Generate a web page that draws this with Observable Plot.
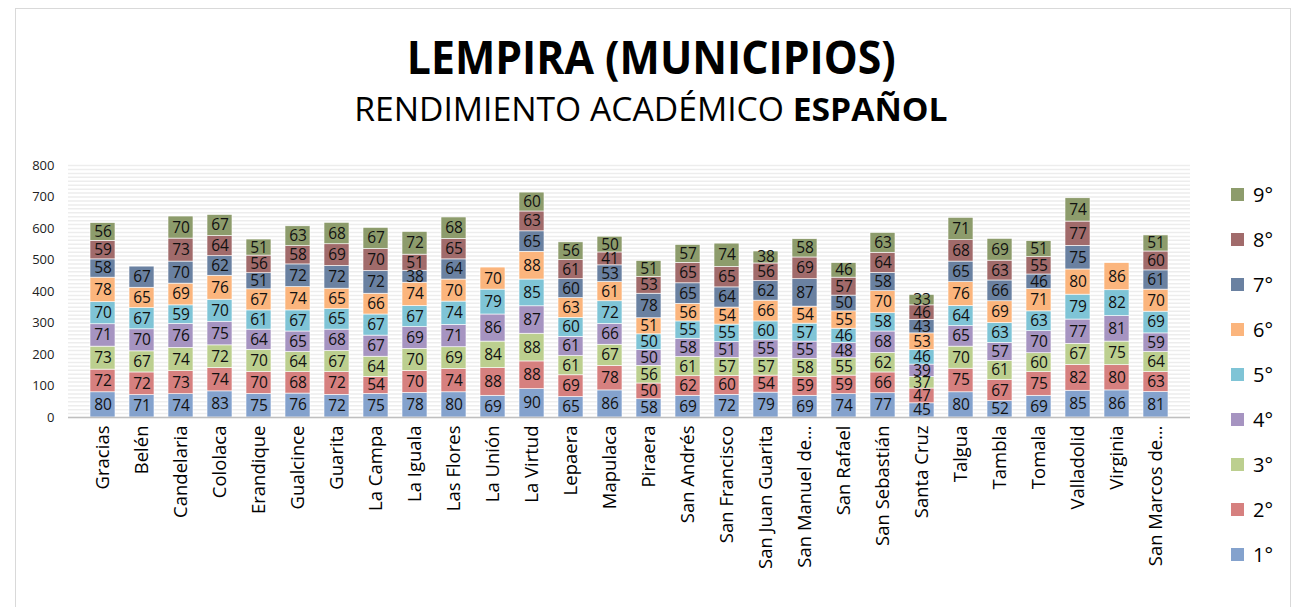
<!DOCTYPE html>
<html>
<head>
<meta charset="utf-8">
<script src="https://cdn.jsdelivr.net/npm/d3@7"></script>
<script src="https://cdn.jsdelivr.net/npm/@observablehq/plot@0.6"></script>
<style>
  html, body { margin: 0; padding: 0; background: #fff; }
  body { width: 1302px; height: 607px; position: relative; overflow: hidden; font-family: "Open Sans", sans-serif; }
  #frame { position: absolute; left: 15px; top: 8px; width: 1274px; height: 610px; border: 1px solid #d9d9d9; }
  #title { position: absolute; left: 0; width: 1302px; top: 33px; text-align: center; font-size: 46px; font-weight: 700; color: #000; line-height: 1; transform: scaleX(0.93); transform-origin: 655px 0; }
  #subtitle { position: absolute; left: 0; width: 1302px; top: 92px; text-align: center; font-size: 33px; font-weight: 400; color: #000; line-height: 1; transform: scaleX(1.02); transform-origin: 656px 0; }
  #chart { position: absolute; left: 0; top: 150px; }
  #legend { position: absolute; left: 1231px; top: 182px; }
  .li { position: absolute; left: 0; height: 24px; display: flex; align-items: center; font-size: 20px; color: #000; white-space: nowrap; }
  .sw { width: 13px; height: 13px; margin-right: 9px; }
</style>
</head>
<body>
<div id="frame"></div>
<div id="title">LEMPIRA (MUNICIPIOS)</div>
<div id="subtitle">RENDIMIENTO ACADÉMICO <b>ESPAÑOL</b></div>
<div id="chart"></div>
<div id="legend"></div>
<script>
const municipios = ["Gracias","Belén","Candelaria","Cololaca","Erandique","Gualcince","Guarita","La Campa","La Iguala","Las Flores","La Unión","La Virtud","Lepaera","Mapulaca","Piraera","San Andrés","San Francisco","San Juan Guarita","San Manuel de…","San Rafael","San Sebastián","Santa Cruz","Talgua","Tambla","Tomala","Valladolid","Virginia","San Marcos de…"];
const grados = ["1°","2°","3°","4°","5°","6°","7°","8°","9°"];
const colores = ["#84a2cd","#d6807f","#bccf8f","#a694c1","#7fc4d6","#fbb57d","#6a81a1","#a16b6b","#8d9c6c"];
const g1 = [80,71,74,83,75,76,72,75,78,80,69,90,65,86,58,69,72,79,69,74,77,45,80,52,69,85,86,81];
const g2 = [72,72,73,74,70,68,72,54,70,74,88,88,69,78,50,62,60,54,59,59,66,47,75,67,75,82,80,63];
const g3 = [73,67,74,72,70,64,67,64,70,69,84,88,61,67,56,61,57,57,58,55,62,37,70,61,60,67,75,64];
const g4 = [71,70,76,75,64,65,68,67,69,71,86,87,61,66,50,58,51,55,55,48,68,39,65,57,70,77,81,59];
const g5 = [70,67,59,70,61,67,65,67,67,74,79,85,60,72,50,55,55,60,57,46,58,46,64,63,63,79,82,69];
const g6 = [78,65,69,76,67,74,65,66,74,70,70,88,63,61,51,56,54,66,54,55,70,53,76,69,71,80,86,70];
const g7 = [58,67,70,62,51,72,72,72,38,64,null,65,60,53,78,65,64,62,87,50,58,43,65,66,46,75,null,61];
const g8 = [59,null,73,64,56,58,69,70,51,65,null,63,61,41,53,65,65,56,69,57,64,46,68,63,55,77,null,60];
const g9 = [56,null,70,67,51,63,68,67,72,68,null,60,56,50,51,57,74,38,58,46,63,33,71,69,51,74,null,51];
const yTicks = [0,100,200,300,400,500,600,700,800];

const gradeSeries = [g1,g2,g3,g4,g5,g6,g7,g8,g9];
const rows = [];
municipios.forEach((m, i) => {
  gradeSeries.forEach((s, j) => {
    if (s[i] != null) rows.push({municipio: m, grado: grados[j], valor: s[i]});
  });
});
const gridVals = d3.range(0, 800.1, 12.5);

const plot = Plot.plot({
  width: 1200,
  height: 457,
  marginLeft: 68,
  marginRight: 10,
  marginTop: 15,
  marginBottom: 190,
  style: {fontFamily: "Open Sans, sans-serif", background: "transparent"},
  x: {domain: municipios, padding: 0.35, label: null},
  y: {domain: [0, 800], label: null},
  color: {domain: grados, range: colores},
  marks: [
    Plot.ruleY(gridVals, {stroke: "#ededed", strokeWidth: 1.5}),
    Plot.barY(rows, Plot.stackY({x: "municipio", y: "valor", fill: "grado", stroke: "#ffffff", strokeWidth: 0.6})),
    Plot.text(rows, Plot.stackY({x: "municipio", y: "valor", text: "valor", fill: "#111", fontSize: 15.5})),
    Plot.ruleY([0], {stroke: "#bfbfbf", strokeWidth: 1.5}),
    Plot.axisY(yTicks, {tickSize: 0, tickPadding: 14, fontSize: 13, color: "#222", label: null}),
    Plot.axisX({tickRotate: -90, tickSize: 0, tickPadding: 8, fontSize: 18.5, color: "#000", label: null})
  ]
});
document.getElementById("chart").appendChild(plot);

const leg = document.getElementById("legend");
grados.slice().reverse().forEach((g, k) => {
  const idx = grados.indexOf(g);
  const d = document.createElement("div");
  d.className = "li";
  d.style.top = (k * 45) + "px";
  d.innerHTML = `<span class="sw" style="background:${colores[idx]}"></span><span>${g}</span>`;
  leg.appendChild(d);
});
</script>
</body>
</html>
